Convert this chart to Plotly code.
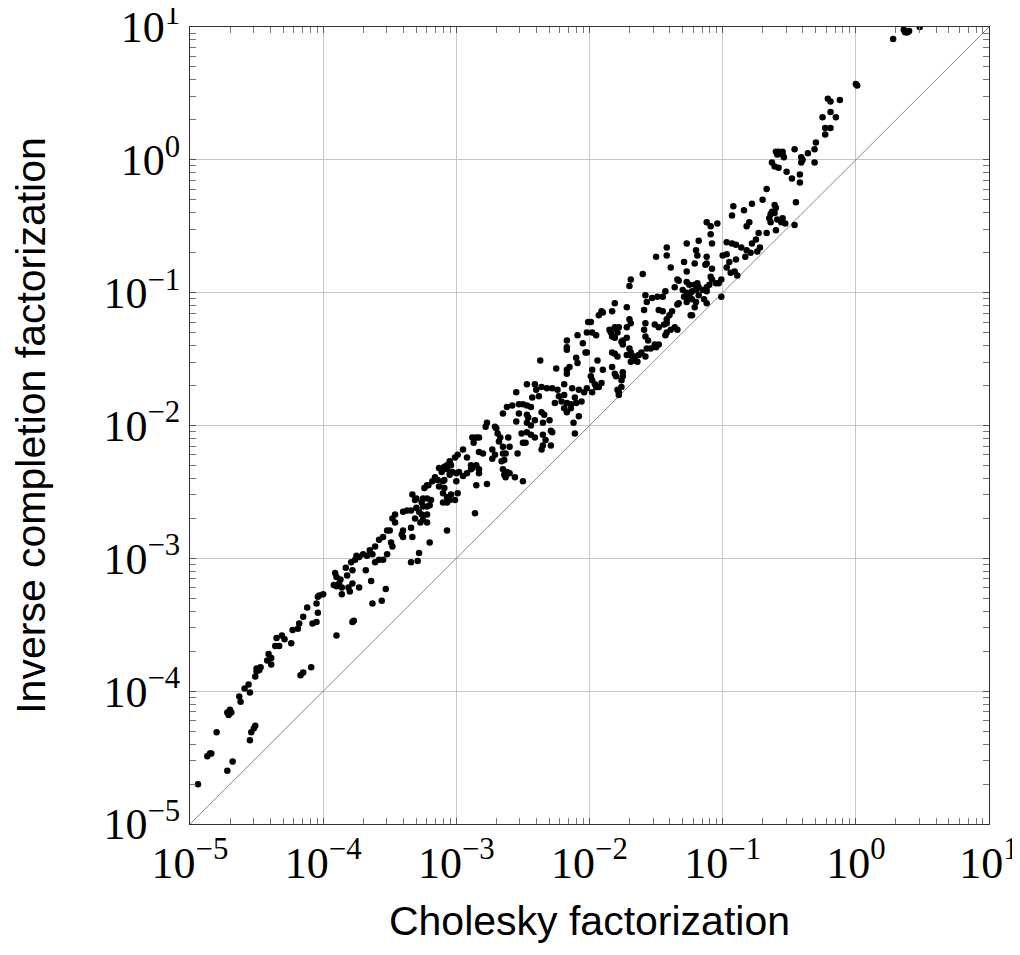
import plotly.graph_objects as go

# log10 of Cholesky factorization value (x) and Inverse completion factorization value (y)
chol_log10 = [
-4.94,-4.87,-4.85,-4.84,-4.80,-4.72,-4.68,-4.72,-4.70,-4.69,
-4.71,-4.63,-4.62,-4.59,-4.56,-4.55,-4.55,-4.54,-4.52,-4.51,
-4.51,-4.50,-4.47,-4.48,-4.50,-4.41,-4.39,-4.42,-4.39,-4.35,
-4.36,-4.33,-4.31,-4.29,-4.24,-4.23,-4.19,-4.18,-4.15,-4.12,
-4.17,-4.15,-4.09,-4.08,-4.05,-4.04,-4.05,-4.04,-4.03,-4.00,
-3.90,-3.91,-3.90,-3.92,-3.90,-3.88,-3.86,-3.86,-3.87,-3.83,
-3.82,-3.81,-3.80,-3.78,-3.78,-3.77,-3.79,-3.76,-3.78,-3.73,
-3.68,-3.64,-3.63,-3.61,-3.61,-3.65,-3.63,-3.67,-3.70,-3.73,-3.75,
-2.62,-2.58,-2.53,-2.50,-2.47,-2.44,-2.26,-2.21,-2.17,-2.14,-2.10,-2.06,-2.19,-2.17,-2.14,
-2.65,-2.53,-2.47,-2.46,-2.41,-2.36,-2.34,-2.30,-2.35,-2.55,-2.47,-2.44,-2.08,-2.12,-2.11,
-2.77,-2.78,-2.71,-2.70,-2.51,-2.47,-2.44,-2.41,-2.29,-2.28,-2.35,-2.33,-2.35,-2.36,-2.29,
-2.85,-2.83,-2.87,-2.88,-2.69,-2.67,-2.68,-2.65,-2.61,-2.60,-2.50,-2.48,-2.73,-2.71,-2.73,
-2.65,-2.63,-2.66,-2.64,-2.54,-2.83,-2.80,-2.95,-2.99,-3.01,-2.92,-2.89,-2.89,-2.88,-2.85,
-2.83,-2.83,-2.65,-2.64,-2.62,-2.60,-2.63,-2.56,-2.50,-3.05,-3.07,-3.09,-3.04,-3.07,-3.03,
-3.05,-3.00,-2.98,-2.95,-2.92,-3.13,-3.11,-3.16,-3.14,-3.10,-3.18,-3.13,-3.09,-3.10,-3.07,
-3.04,-3.05,-3.10,-3.07,-3.01,-2.99,-3.00,-3.09,-2.85,-2.77,-3.22,-3.24,-3.21,-3.33,-3.31,
-3.30,-3.25,-3.26,-3.22,-3.19,-3.20,-3.22,-3.25,-3.40,-3.37,-3.34,-3.30,-3.28,-3.31,-3.26,
-3.22,-3.25,-3.22,-3.27,-3.46,-3.48,-3.46,-3.52,-3.50,-3.55,-3.58,-3.49,-3.48,-3.40,-3.41,
-3.40,-3.34,-3.33,-3.20,-3.07,-2.86,-3.52,-3.55,-3.58,-3.28,-3.29,-3.34,-3.53,-3.56,
-2.17,-2.17,-2.17,-2.09,-2.05,-2.01,-2.02,-2.02,-2.03,-2.37,-2.10,-2.09,-2.15,-2.17,-2.17,
-2.25,-2.47,-2.41,-2.36,-2.32,-2.28,-2.24,-2.19,-2.13,-2.08,-2.02,-2.55,-2.40,-2.43,-2.38,
-2.23,-2.19,-2.11,-2.04,
-1.09,-1.08,-1.18,-1.27,-1.42,-1.42,-1.50,-1.20,-1.19,-1.21,-1.29,-1.12,-1.12,-1.13,-0.97,
-0.93,-0.90,-0.86,-0.82,-0.78,-0.75,-0.73,-0.72,-0.74,-0.79,-0.83,-0.97,-1.00,-0.90,-0.95,
-0.97,-0.94,-0.91,-0.89,-1.08,-1.09,-1.08,-1.05,-1.10,-1.12,-1.15,-1.12,-1.01,-1.01,-1.03,
-1.39,-1.34,-1.33,-1.36,-1.27,-1.27,-1.25,-1.21,-1.19,-1.18,-1.20,-1.23,-1.24,-1.27,-1.30,
-1.29,-1.25,-1.23,-1.27,-1.20,-1.18,-1.14,-1.12,-1.33,-1.34,-1.60,-1.69,-1.70,-1.58,-1.57,
-1.59,-1.53,-1.49,-1.45,-1.43,-1.48,-1.45,-1.21,-1.23,-1.24,-1.40,-1.42,-1.42,-1.44,-1.48,
-1.38,-1.39,-1.42,-1.43,-1.34,-1.36,-1.51,-1.58,-1.59,-1.58,-1.56,-1.51,-1.50,-1.48,-1.54,
-1.57,-1.70,-1.69,-1.72,-1.72,-1.70,-1.69,-1.72,-1.68,-1.66,-1.69,-1.63,-1.61,-1.58,-1.64,
-1.66,-1.81,-1.83,-1.91,-1.93,-1.90,-1.99,-1.98,-1.95,-1.72,-1.85,-1.84,-1.81,-1.80,-1.83,
-1.79,-1.78,-1.81,-1.76,-1.75,-1.75,-1.83,-1.81,-1.79,-1.94,-1.90,-1.83,-1.81,-1.80,-1.75,
-1.76,-1.75,-1.98,-1.99,-1.98,-1.96,-1.95,-1.91,-1.93,-1.76,-1.78,-1.79,-1.78,-1.98,
-0.78,-0.84,-0.92,-0.93,-0.80,-0.82,-1.12,-1.09,-1.04,
0.28,0.36,0.38,0.39,0.40,0.37,0.48,0.00,0.01,-0.21,-0.19,-0.12,-0.19,-0.15,-0.25,
-0.23,-0.19,-0.23,-0.30,-0.31,-0.36,-0.41,-0.40,-0.46,-0.41,-0.31,-0.42,-0.42,-0.48,-0.52,
-0.60,-0.59,-0.58,-0.55,-0.54,-0.63,-0.61,-0.58,-0.55,-0.67,-0.70,-0.45,-0.61,-0.60,-0.63,
-0.61,-0.64,-0.65,-0.59,-0.55,-0.56,-0.53,-0.46,-0.60,-0.64,-0.67,
]

inv_log10 = [
-4.70,-4.49,-4.47,-4.47,-4.31,-4.60,-4.53,-4.16,-4.14,-4.16,
-4.18,-4.04,-4.08,-3.98,-3.95,-4.01,-4.37,-4.31,-4.28,-4.26,
-3.89,-3.85,-3.82,-3.84,-3.83,-3.72,-3.75,-3.77,-3.80,-3.60,
-3.66,-3.66,-3.58,-3.61,-3.64,-3.54,-3.53,-3.49,-3.44,-3.37,
-3.88,-3.86,-3.82,-3.49,-3.48,-3.41,-3.34,-3.29,-3.28,-3.27,
-3.58,-3.11,-3.14,-3.20,-3.21,-3.19,-3.22,-3.27,-3.16,-3.07,
-3.13,-3.22,-3.25,-3.19,-3.48,-3.47,-3.03,-3.01,-3.09,-3.22,
-3.09,-3.17,-3.34,-3.03,-2.91,-2.94,-2.97,-2.98,-2.97,-2.99,-2.98,
-1.86,-1.85,-1.84,-1.84,-1.85,-1.86,-1.83,-1.82,-1.83,-1.84,-1.83,-1.82,-1.87,-1.90,-1.87,
-1.91,-1.91,-1.92,-1.94,-1.96,-1.90,-1.92,-1.96,-1.98,-1.97,-1.98,-2.00,-1.93,-1.98,-2.06,
-1.98,-2.01,-2.01,-2.02,-2.06,-2.05,-2.07,-2.09,-2.04,-2.05,-2.07,-2.11,-2.15,-2.18,-2.15,
-2.09,-2.09,-2.13,-2.09,-2.06,-2.09,-2.12,-2.16,-2.09,-2.16,-2.13,-2.13,-2.18,-2.22,-2.25,
-2.21,-2.21,-2.27,-2.26,-2.21,-2.20,-2.21,-2.18,-2.22,-2.24,-2.24,-2.30,-2.33,-2.32,-2.30,
-2.33,-2.36,-2.33,-2.37,-2.35,-2.36,-2.39,-2.39,-2.42,-2.27,-2.30,-2.31,-2.30,-2.33,-2.35,
-2.37,-2.36,-2.35,-2.38,-2.36,-2.32,-2.35,-2.39,-2.41,-2.42,-2.42,-2.46,-2.47,-2.51,-2.54,
-2.52,-2.56,-2.58,-2.58,-2.56,-2.51,-2.42,-2.41,-2.45,-2.44,-2.45,-2.47,-2.45,-2.52,-2.56,
-2.55,-2.55,-2.58,-2.55,-2.56,-2.60,-2.61,-2.61,-2.65,-2.64,-2.64,-2.62,-2.65,-2.70,-2.67,
-2.67,-2.71,-2.73,-2.73,-2.67,-2.70,-2.73,-2.79,-2.79,-2.84,-2.86,-2.88,-2.91,-2.79,-2.82,
-2.84,-2.77,-2.84,-2.88,-2.79,-2.66,-2.97,-3.01,-3.01,-2.96,-3.02,-3.03,-3.23,-3.32,
-1.36,-1.43,-1.41,-1.32,-1.38,-1.22,-1.30,-1.45,-1.45,-1.51,-1.49,-1.53,-1.56,-1.58,-1.61,
-1.57,-1.69,-1.69,-1.71,-1.72,-1.72,-1.73,-1.69,-1.72,-1.73,-1.72,-1.75,-1.73,-1.79,-1.78,
-1.78,-1.77,-1.79,-1.75,
-0.56,-0.63,-0.61,-0.63,-0.66,-0.72,-0.73,-0.68,-0.72,-0.78,-0.77,-0.73,-0.78,-0.79,-0.62,
-0.63,-0.64,-0.66,-0.68,-0.63,-0.60,-0.55,-0.66,-0.69,-0.70,-0.73,-0.71,-0.72,-0.75,-0.77,
-0.81,-0.85,-0.84,-0.87,-0.82,-0.88,-0.90,-0.93,-0.94,-0.96,-0.98,-0.99,-0.90,-1.03,-0.93,
-0.81,-0.90,-0.91,-0.96,-0.84,-0.92,-0.94,-0.94,-0.93,-0.96,-0.98,-0.99,-1.00,-1.00,-0.98,
-1.03,-1.04,-1.05,-1.07,-1.07,-1.02,-1.05,-1.08,-1.08,-1.09,-0.86,-0.90,-0.95,-1.02,-1.07,
-1.13,-1.04,-1.03,-1.03,-0.99,-1.13,-1.14,-1.11,-1.17,-1.17,-1.17,-1.20,-1.23,-1.24,-1.26,
-1.14,-1.28,-1.30,-1.32,-1.28,-1.26,-1.24,-1.23,-1.28,-1.33,-1.36,-1.39,-1.41,-1.39,-1.42,
-1.42,-1.20,-1.23,-1.26,-1.34,-1.42,-1.45,-1.47,-1.48,-1.51,-1.52,-1.47,-1.45,-1.48,-1.52,
-1.48,-1.08,-1.14,-1.14,-1.17,-1.15,-1.22,-1.30,-1.32,-1.11,-1.28,-1.30,-1.26,-1.27,-1.33,
-1.30,-1.26,-1.34,-1.37,-1.39,-1.36,-1.45,-1.46,-1.48,-1.51,-1.58,-1.56,-1.61,-1.63,-1.63,
-1.66,-1.60,-1.58,-1.63,-1.66,-1.69,-1.71,-1.68,-1.71,-1.71,-1.75,-1.73,-1.77,-1.75,
-0.33,-0.38,-0.35,-0.42,-0.47,-0.50,-0.47,-0.50,-0.48,
0.91,0.98,0.96,0.96,0.97,0.96,1.00,0.57,0.56,0.46,0.44,0.45,0.36,0.32,0.32,
0.24,0.24,0.19,0.13,0.08,0.05,0.02,0.00,0.08,-0.02,-0.02,-0.11,-0.17,-0.14,-0.09,
0.06,0.04,0.06,0.06,0.02,-0.02,-0.05,-0.06,0.04,-0.22,-0.30,-0.32,-0.34,-0.36,-0.39,
-0.40,-0.41,-0.44,-0.45,-0.44,-0.47,-0.48,-0.49,-0.53,-0.47,-0.55,
]

diag_vals = [1e-5, 1e1]
tick_vals = [1e-5, 1e-4, 1e-3, 1e-2, 1e-1, 1e0, 1e1]
tick_text = ["10<sup>\u22125</sup>", "10<sup>\u22124</sup>", "10<sup>\u22123</sup>",
             "10<sup>\u22122</sup>", "10<sup>\u22121</sup>", "10<sup>0</sup>", "10<sup>1</sup>"]

xs = [10 ** v for v in chol_log10]
ys = [10 ** v for v in inv_log10]

fig = go.Figure()
fig.add_trace(go.Scatter(x=diag_vals, y=diag_vals, mode="lines",
                         line=dict(color="#8a8a8a", width=1), hoverinfo="skip",
                         showlegend=False))
fig.add_trace(go.Scatter(x=xs, y=ys, mode="markers",
                         marker=dict(color="black", size=6.5, line=dict(width=0)),
                         showlegend=False))

axis_common = dict(
    type="log", range=[-5, 1], automargin=False,
    tickmode="array", tickvals=tick_vals, ticktext=tick_text,
    ticks="inside", ticklen=6, tickcolor="#555555", tickwidth=1,
    showline=True, linecolor="#333333", linewidth=1, mirror="allticks",
    showgrid=True, gridcolor="#c6c6c6", gridwidth=1, zeroline=False,
    ticklabeloverflow="allow",
    tickfont=dict(family="Liberation Serif", size=44, color="black"),
    minor=dict(dtick="D1", ticks="inside", ticklen=6, tickcolor="#777777",
               tickwidth=1, showgrid=False),
)

fig.update_layout(
    width=1020, height=955,
    margin=dict(l=182, r=39, t=19, b=139),
    paper_bgcolor="white", plot_bgcolor="white",
    xaxis=dict(**axis_common,
               title=dict(text="Cholesky factorization",
                          font=dict(family="Liberation Sans", size=41, color="black"),
                          standoff=19)),
    yaxis=dict(**axis_common,
               title=dict(text="Inverse completion factorization",
                          font=dict(family="Liberation Sans", size=41, color="black"),
                          standoff=58)),
)

fig.write_html("out.html")
